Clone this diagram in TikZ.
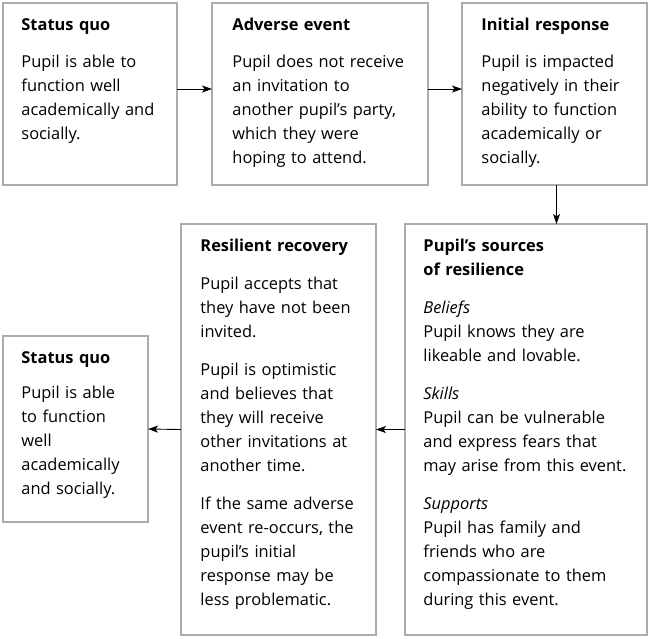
\documentclass[tikz,border=0pt]{standalone}
\usepackage{fontspec}
\setmainfont{Open Sans}
\usepackage{tikz}
\usetikzlibrary{positioning,arrows.meta}
\definecolor{framegray}{HTML}{ABABAB}
\newcommand{\hdstrut}{\rule{0pt}{27pt}}

\begin{document}
\begin{tikzpicture}[x=1pt,y=-1pt,line width=0.9pt,
  every node/.style={font=\fontsize{16.4pt}{24pt}\selectfont,inner sep=0pt},
  stage/.style={draw=framegray,line width=2.6pt,anchor=north west,outer sep=0pt},
  blurb/.style={align=left,text width=#1},
  link/.style={-{Stealth[length=10pt,width=7pt,inset=2.5pt]}}]
  \useasboundingbox (0,0) rectangle (650,638);
  % frames
  \node[stage,minimum width=174pt,minimum height=182pt] (quo)  at (3,3) {};
  \node[stage,minimum width=216pt,minimum height=182pt] (adv)  at (212,3) {};
  \node[stage,minimum width=185pt,minimum height=182pt] (resp) at (462,3) {};
  \node[stage,minimum width=242pt,minimum height=411pt] (src)  at (405,224) {};
  \node[stage,minimum width=195pt,minimum height=411pt] (rec)  at (181,224) {};
  \node[stage,minimum width=145pt,minimum height=186pt] (quob) at (3,336) {};
  % texts
  \node[blurb=150pt,below right=0pt and 18pt of quo.north west] (quot) {\hdstrut\textbf{Status quo}\\[13pt]
    Pupil is able to\\ function well\\ academically and\\ socially.};
  \node[blurb=195pt,below right=0pt and 20pt of adv.north west] (advt) {\hdstrut\textbf{Adverse event}\\[13pt]
    Pupil does not receive\\ an invitation to\\ another pupil's party,\\ which they were\\ hoping to attend.};
  \node[blurb=165pt,below right=0pt and 19pt of resp.north west] (respt) {\hdstrut\textbf{Initial response}\\[13pt]
    Pupil is impacted\\ negatively in their\\ ability to function\\ academically or\\ socially.};
  \node[blurb=222pt,below right=0pt and 18pt of src.north west] (srct) {\hdstrut\textbf{Pupil's sources}\\
    \textbf{of resilience}\\[14pt]
    \textit{Beliefs}\\ Pupil knows they are\\ likeable and lovable.\\[14pt]
    \textit{Skills}\\ Pupil can be vulnerable\\ and express fears that\\ may arise from this event.\\[14pt]
    \textit{Supports}\\ Pupil has family and\\ friends who are\\ compassionate to them\\ during this event.};
  \node[blurb=175pt,below right=0pt and 19pt of rec.north west] (rect) {\hdstrut\textbf{Resilient recovery}\\[14pt]
    Pupil accepts that\\ they have not been\\ invited.\\[14pt]
    Pupil is optimistic\\ and believes that\\ they will receive\\ other invitations at\\ another time.\\[14pt]
    If the same adverse\\ event re-occurs, the\\ pupil's initial\\ response may be\\ less problematic.};
  \node[blurb=125pt,below right=0pt and 18pt of quob.north west] (quobt) {\hdstrut\textbf{Status quo}\\[11pt]
    Pupil is able\\ to function\\ well\\ academically\\ and socially.};
  % arrows
  \draw[link] ([yshift=5pt]quo.east) -- ([yshift=5pt]adv.west);
  \draw[link] ([yshift=5pt]adv.east) -- ([yshift=5pt]resp.west);
  \draw[link] ([xshift=2pt]resp.south) -- ([xshift=2pt]resp.south |- src.north);
  \draw[link] (src.west) -- (rec.east);
  \draw[link] (rec.west) -- (quob.east);
\end{tikzpicture}
\end{document}
